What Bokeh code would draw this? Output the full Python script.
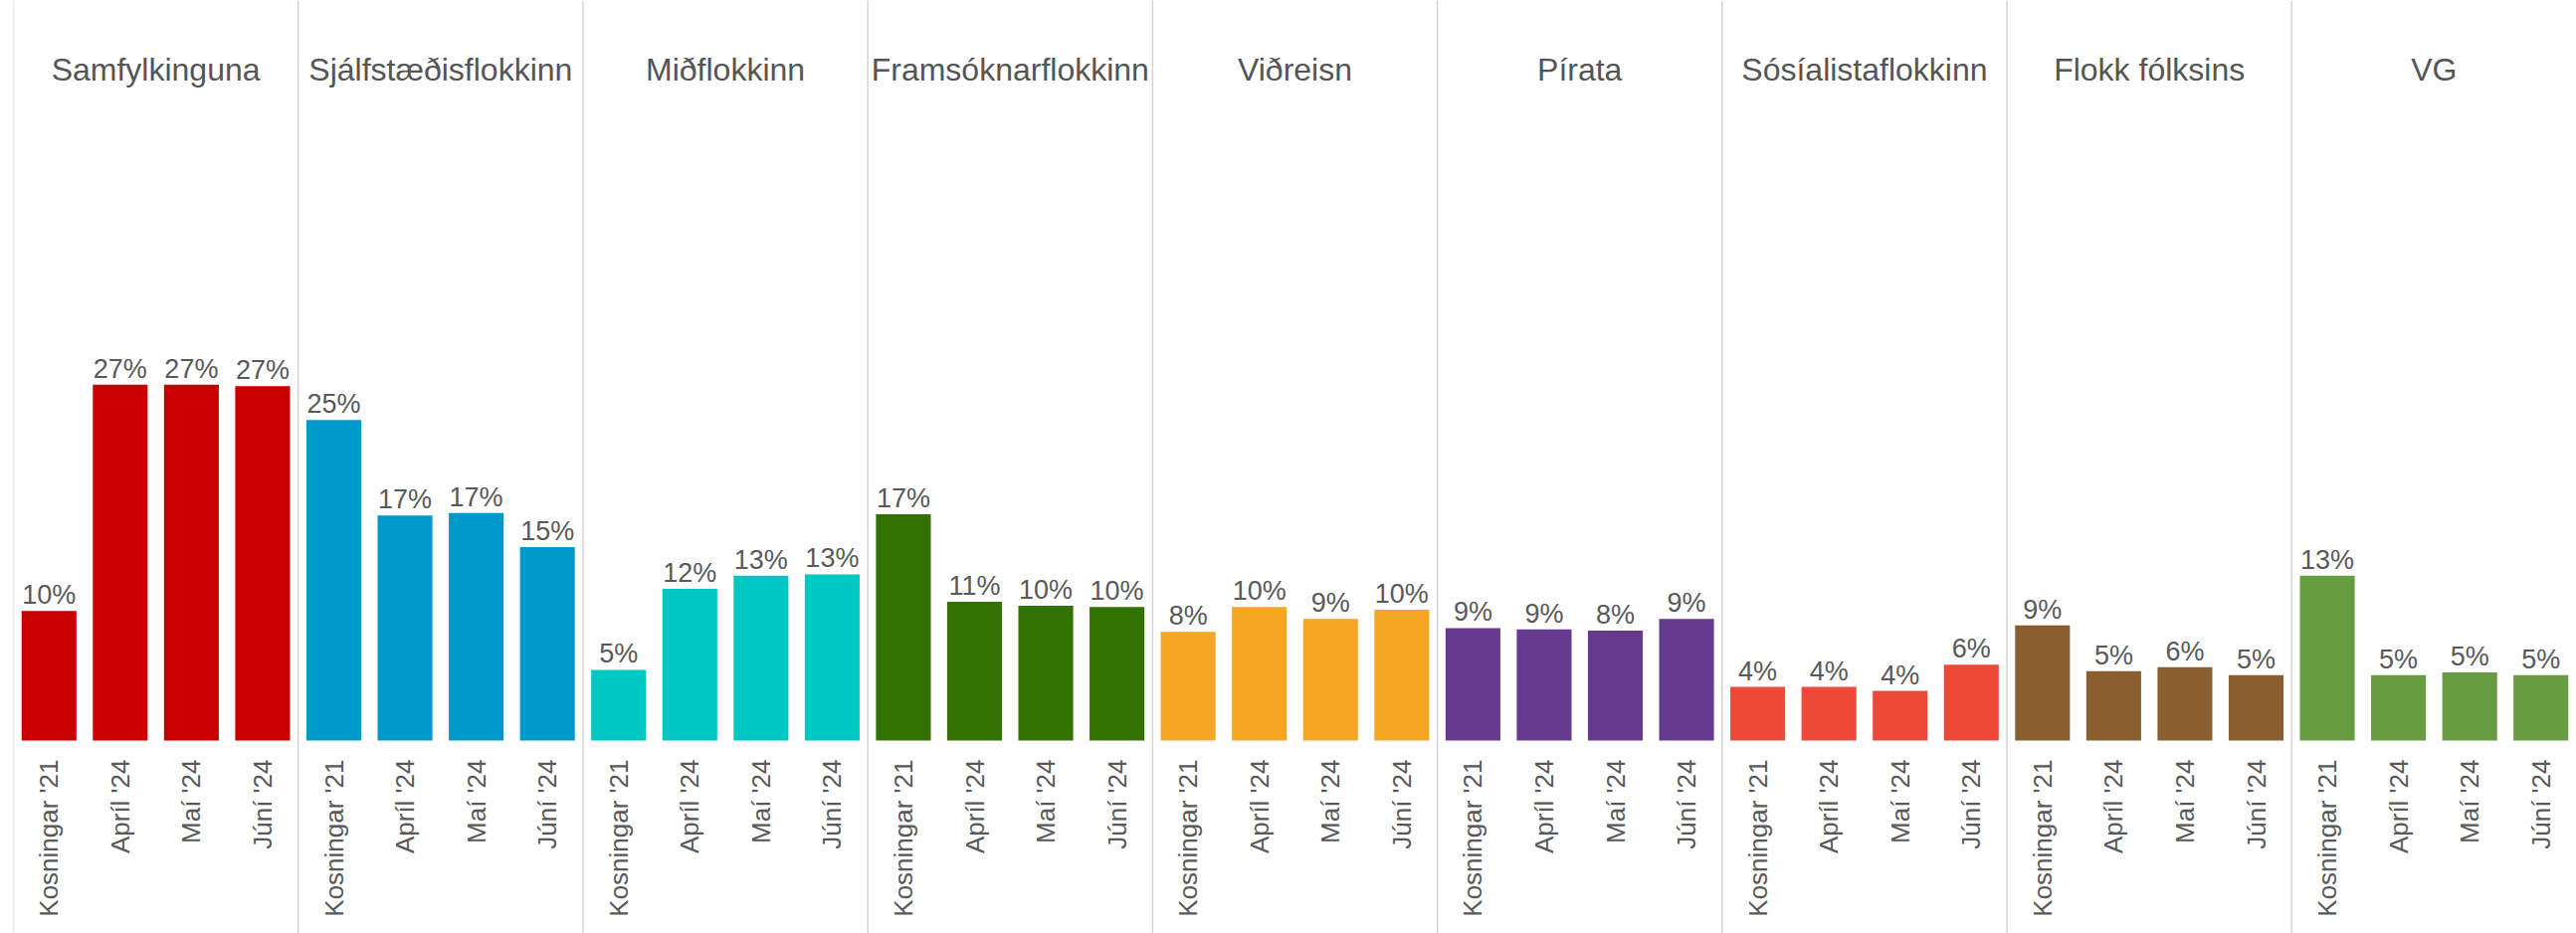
import math
from bokeh.plotting import figure
from bokeh.models import FactorRange, Range1d, ColumnDataSource
from bokeh.core.properties import value
from bokeh.embed import file_html
from bokeh.resources import INLINE

# ---- data ----
parties = ["Samfylkinguna", "Sjálfstæðisflokkinn", "Miðflokkinn", "Framsóknarflokkinn",
           "Viðreisn", "Pírata", "Sósíalistaflokkinn", "Flokk fólksins", "VG"]
periods = ["Kosningar '21", "Apríl '24", "Maí '24", "Júní '24"]
party_colors = ["#C80000", "#0099CC", "#00C8C3", "#317200", "#F5A623",
                "#663A8E", "#EE4938", "#8B5E2F", "#679C42"]

samfylkingin = [9.9, 27.2, 27.2, 27.1]
sjalfstaedis = [24.5, 17.2, 17.4, 14.8]
midflokkur = [5.4, 11.6, 12.6, 12.7]
framsokn = [17.3, 10.6, 10.3, 10.2]
vidreisn = [8.3, 10.2, 9.3, 10.0]
piratar = [8.6, 8.5, 8.4, 9.3]
sosialistar = [4.1, 4.1, 3.8, 5.8]
flokkur_folksins = [8.8, 5.3, 5.6, 5.0]
vg = [12.6, 5.0, 5.2, 5.0]

series = [samfylkingin, sjalfstaedis, midflokkur, framsokn, vidreisn,
          piratar, sosialistar, flokkur_folksins, vg]

# ---- build table ----
xs, vals, cols, labels, per_lbl = [], [], [], [], []
for party, color, vs in zip(parties, party_colors, series):
    for per, v in zip(periods, vs):
        xs.append((party, per))
        vals.append(v)
        cols.append(color)
        labels.append(f"{math.floor(v + 0.5)}%")
        per_lbl.append(per)

src = ColumnDataSource(dict(x=xs, v=vals, c=cols, lbl=labels, per=per_lbl))

W, H = 2589, 938
LEFT = 13
PX_PER_PCT = 13.15
BASE_FROM_TOP = 744
y_end = BASE_FROM_TOP / PX_PER_PCT
y_start = -(H - BASE_FROM_TOP) / PX_PER_PCT
title_y = y_end - 69 / PX_PER_PCT

x_range = FactorRange(factors=xs, factor_padding=0, group_padding=0, range_padding=0)

p = figure(width=W, height=H, x_range=x_range, y_range=Range1d(y_start, y_end),
           output_backend="svg", toolbar_location=None,
           x_axis_location=None, y_axis_location=None,
           min_border_left=LEFT, min_border_right=0, min_border_top=0, min_border_bottom=0)
p.xgrid.grid_line_color = None
p.ygrid.grid_line_color = None
p.outline_line_color = None
p.background_fill_color = "white"
p.border_fill_color = "white"

# panel separators
sep_x = [(party, periods[0], -0.5) for party in parties]
p.segment(x0=sep_x, x1=sep_x, y0=[y_start] * len(parties), y1=[y_end] * len(parties),
          line_color="#d4d4d4", line_width=1.5)

# bars
p.vbar(x="x", top="v", bottom=0, width=0.77, fill_color="c", line_color=None, source=src)

# value labels
p.text(x="x", y="v", text="lbl", source=src, text_align="center", text_baseline="alphabetic",
       y_offset=-16, text_font=value("Liberation Sans"), text_font_size=value("27px"),
       text_color="#595959")

# period labels (rotated)
p.text(x="x", y=0, text="per", source=src, angle=math.pi / 2, text_align="right",
       text_baseline="middle", y_offset=19, text_font=value("Liberation Sans"),
       text_font_size=value("26px"), text_color="#595959")

# party titles
p.text(x=parties, y=[title_y] * len(parties), text=parties, text_align="center",
       text_baseline="middle", text_font=value("Liberation Sans"),
       text_font_size=value("32px"), text_color="#555555")

open("out.html", "w").write(file_html(p, INLINE))
